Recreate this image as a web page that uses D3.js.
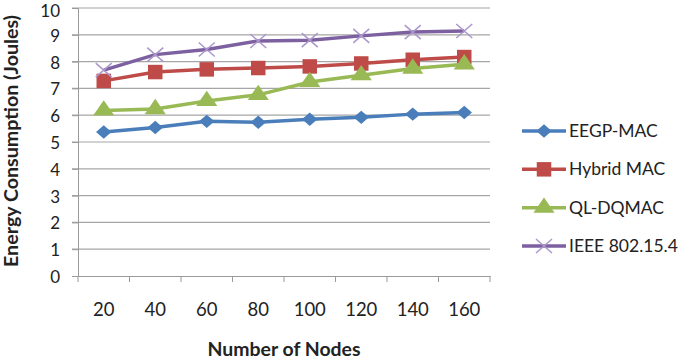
<!DOCTYPE html>
<html>
<head>
<meta charset="utf-8">
<script src="https://cdn.jsdelivr.net/npm/d3@7"></script>
<style>
  body { margin: 0; background: #fff; }
  text { font-family: Lato, "Open Sans", sans-serif; fill: #222; }
</style>
</head>
<body>
<div id="chart"></div>
<script>
// chart data
const nodes = ['20', '40', '60', '80', '100', '120', '140', '160'];
const eegpMac = [5.37, 5.54, 5.77, 5.74, 5.85, 5.92, 6.04, 6.1];
const hybridMac = [7.28, 7.61, 7.71, 7.76, 7.82, 7.93, 8.07, 8.17];
const qlDqmac = [6.18, 6.23, 6.53, 6.76, 7.24, 7.49, 7.74, 7.9];
const ieee = [7.68, 8.26, 8.45, 8.77, 8.8, 8.96, 9.1, 9.14];
const yTicks = [0, 1, 2, 3, 4, 5, 6, 7, 8, 9, 10];

const series = [
  { name: 'EEGP-MAC', values: eegpMac, color: '#4a7ebb', marker: 'diamond' },
  { name: 'Hybrid MAC', values: hybridMac, color: '#be4b48', marker: 'square' },
  { name: 'QL-DQMAC', values: qlDqmac, color: '#98b954', marker: 'triangle' },
  { name: 'IEEE 802.15.4', values: ieee, color: '#7d60a0', marker: 'cross' }
];

const width = 685, height = 359;
const plot = { left: 78, right: 490, top: 8, bottom: 276 };

const svg = d3.select('#chart').append('svg')
  .attr('width', width)
  .attr('height', height);

const x = d3.scaleBand().domain(nodes).range([plot.left, plot.right]);
const y = d3.scaleLinear().domain([0, 10]).range([plot.bottom, plot.top]);

// gridlines
svg.append('g')
  .selectAll('line')
  .data(yTicks.filter(d => d > 0))
  .enter().append('line')
  .attr('x1', plot.left - 6)
  .attr('x2', plot.right)
  .attr('y1', d => y(d))
  .attr('y2', d => y(d))
  .attr('stroke', '#a6a6a6')
  .attr('stroke-width', 1.2);

// y axis
const yAxis = svg.append('g')
  .attr('transform', `translate(${plot.left},0)`)
  .call(d3.axisLeft(y).tickValues(yTicks).tickSize(6).tickPadding(12));
yAxis.select('.domain').attr('stroke', '#9a9a9a');
yAxis.selectAll('.tick line').attr('stroke', '#9a9a9a');
yAxis.selectAll('.tick text')
  .style('font-size', '17px')
  .style('font-family', 'Lato, sans-serif')
  .attr('dy', d => d === 10 ? '0.5em' : '0.38em')
  .attr('fill', '#333');

// x axis
const xAxis = svg.append('g')
  .attr('transform', `translate(0,${plot.bottom})`)
  .call(d3.axisBottom(x).tickSize(0).tickPadding(27));
xAxis.select('.domain').attr('stroke', '#9a9a9a');
xAxis.selectAll('.tick text')
  .style('font-size', '18.5px')
  .style('font-family', 'Lato, sans-serif')
  .attr('fill', '#333');
// category boundary ticks
svg.append('g')
  .selectAll('line')
  .data(nodes.concat(['end']))
  .enter().append('line')
  .attr('x1', (d, i) => i < nodes.length ? x(d) : plot.right)
  .attr('x2', (d, i) => i < nodes.length ? x(d) : plot.right)
  .attr('y1', plot.bottom)
  .attr('y2', plot.bottom + 6)
  .attr('stroke', '#9a9a9a');

// axis titles
svg.append('text')
  .attr('x', 284)
  .attr('y', 356)
  .attr('text-anchor', 'middle')
  .attr('textLength', 153)
  .attr('lengthAdjust', 'spacingAndGlyphs')
  .style('font-size', '19px')
  .style('font-weight', 'bold')
  .text('Number of Nodes');

svg.append('text')
  .attr('transform', `translate(18,141) rotate(-90)`)
  .attr('text-anchor', 'middle')
  .attr('textLength', 252)
  .attr('lengthAdjust', 'spacingAndGlyphs')
  .style('font-size', '18px')
  .style('font-weight', 'bold')
  .text('Energy Consumption (Joules)');

function drawMarker(g, type, color) {
  if (type === 'diamond') {
    g.append('path').attr('d', d3.symbol(d3.symbolDiamond2, 115)()).attr('fill', color)
      .attr('transform', 'scale(1.15,1)');
  } else if (type === 'square') {
    g.append('path').attr('d', d3.symbol(d3.symbolSquare, 210)()).attr('fill', color);
  } else if (type === 'triangle') {
    g.append('path').attr('d', d3.symbol(d3.symbolTriangle, 135)()).attr('fill', color)
      .attr('transform', 'scale(1.2,1)');
  } else {
    g.append('path').attr('d', 'M-8,-7L8,7M-8,7L8,-7')
      .attr('stroke', '#ab97cb').attr('stroke-width', 1.5).attr('fill', 'none');
  }
}

const line = d3.line()
  .x((d, i) => x(nodes[i]) + x.bandwidth() / 2)
  .y(d => y(d));

series.forEach(s => {
  const g = svg.append('g');
  g.append('path')
    .datum(s.values)
    .attr('d', line)
    .attr('fill', 'none')
    .attr('stroke', s.color)
    .attr('stroke-width', 3.5);
  s.values.forEach((v, i) => {
    const m = g.append('g')
      .attr('transform', `translate(${x(nodes[i]) + x.bandwidth() / 2},${y(v)})`);
    drawMarker(m, s.marker, s.color);
  });
});

// legend
const legend = svg.append('g');
const legendY = d3.scalePoint().domain(series.map(s => s.name)).range([131, 246]);
series.forEach(s => {
  const g = legend.append('g').attr('transform', `translate(0,${legendY(s.name)})`);
  g.append('line')
    .attr('x1', 522).attr('x2', 566)
    .attr('stroke', s.color).attr('stroke-width', 3.5);
  const m = g.append('g').attr('transform', 'translate(544,0)');
  drawMarker(m, s.marker, s.color);
  g.append('text')
    .attr('x', 569)
    .attr('y', 6)
    .style('font-size', '17.5px')
    .text(s.name);
});
</script>
</body>
</html>
